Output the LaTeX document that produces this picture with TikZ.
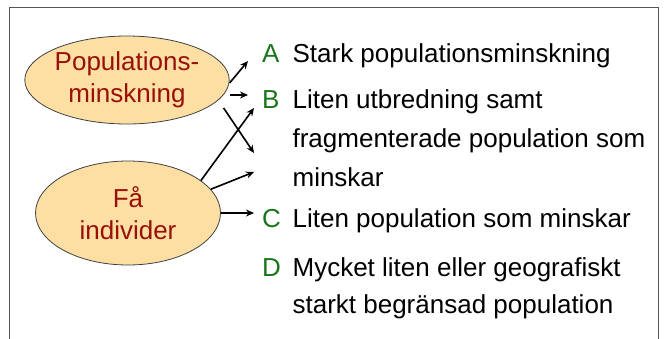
\documentclass[tikz,border=0pt]{standalone}
\usepackage{fontspec}
\setmainfont{Liberation Sans}
\usepackage{xcolor}
\usepackage{tikz}
\usetikzlibrary{positioning,shapes.geometric,arrows.meta}
\definecolor{causefill}{HTML}{FDDFA4}
\definecolor{causetext}{HTML}{9A0F0A}
\definecolor{choicegreen}{HTML}{1C741C}
\definecolor{framegray}{HTML}{555555}

\begin{document}
\begin{tikzpicture}[
        x=1pt, y=-1pt,
        cause/.style={
            ellipse,
            draw=black!75,
            line width=0.8pt,
            fill=causefill,
            text=causetext,
            minimum width=185pt,
            minimum height=88pt,
            inner sep=0pt,
            align=center,
            font=\fontsize{26pt}{32pt}\selectfont
        },
        choice/.style={
            anchor=base west,
            inner sep=0pt,
            text width=30pt,
            align=left,
            text=choicegreen,
            font=\fontsize{26pt}{38.5pt}\selectfont
        },
        crit/.style={
            inner sep=0pt,
            anchor=base west,
            font=\fontsize{26pt}{38.5pt}\selectfont
        },
        link/.style={
            ->,
            >={Stealth[length=8pt,width=7pt]},
            line width=1.6pt
        },
        node distance=0pt
    ]

    \useasboundingbox (0,0) rectangle (666,338);
    \draw[framegray, line width=1pt] (9,7) rectangle (658,352);

    \node[cause] (pop) at (127,80) {Populations-\\minskning};
    \node[cause, minimum height=104pt] (few) at (128,213) {Få\\individer};

    \node[choice] (cA) at (262,62) {A};
    \node[choice] (cB) at (262,108) {B};
    \node[choice] (cC) at (262,227) {C};
    \node[choice] (cD) at (262,276) {D};

    \node[crit, right=of cA.base east, anchor=base west] (tA) {Stark populationsminskning};
    \node[crit, right=of cB.base east, anchor=base west] (tB) {Liten utbredning samt};
    \node[crit, below=39pt of tB.base west, anchor=base west] (tB2) {fragmenterade population som};
    \node[crit, below=39pt of tB2.base west, anchor=base west] (tB3) {minskar};
    \node[crit, right=of cC.base east, anchor=base west] (tC) {Liten population som minskar};
    \node[crit, right=of cD.base east, anchor=base west] (tD) {Mycket liten eller geografiskt};
    \node[crit, below=37pt of tD.base west, anchor=base west] (tD2) {starkt begränsad population};

    % arrow tips just left of the criteria
    \coordinate (toA) at (248,61);
    \coordinate (toB1) at (248,95);
    \coordinate (toB2) at (254,108);
    \coordinate (toB3) at (254,153);
    \coordinate (toB4) at (254,172);
    \coordinate (toC) at (254,213);

    \draw[link] ([yshift=-3pt]pop.east) -- (toA);
    \draw[link] ([yshift=-15pt]pop.east) -- (toB1);
    \draw[link] ([shift={(-6pt,-28pt)}]pop.east) -- (toB3);
    \draw[link] (few.24) -- (toB2);
    \draw[link] (few.16) -- (toB4);
    \draw[link] (few.east) -- (toC);

\end{tikzpicture}
\end{document}
